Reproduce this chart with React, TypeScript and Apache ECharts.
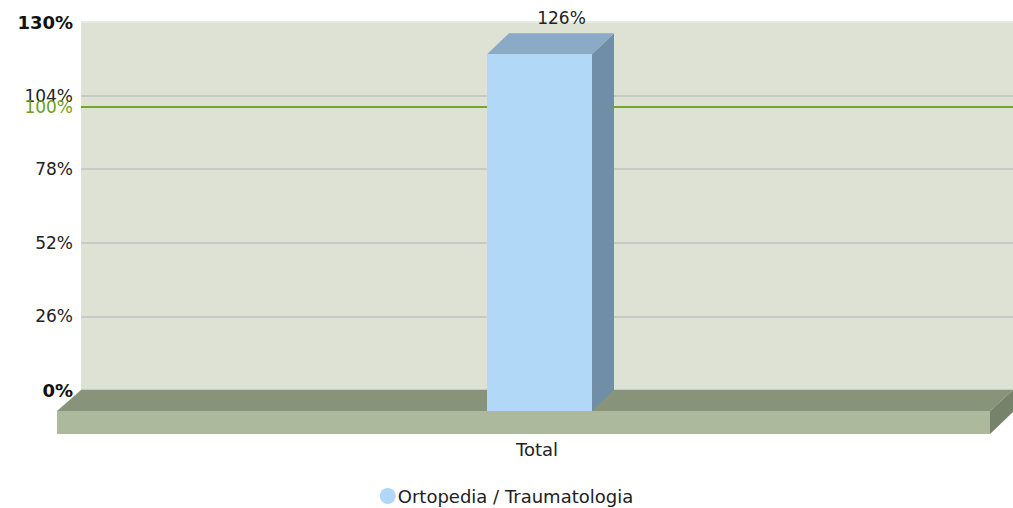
import React, { useEffect, useRef } from "react";
import * as echarts from "echarts";

const categories = ["Total"];
const seriesName = "Ortopedia / Traumatologia";
const values = [126];
const yMin = 0;
const yMax = 130;
const yInterval = 26;
const targetValue = 100;
const targetLabel = "100%";

const FONT = "DejaVu Sans";

export default function App() {
  const ref = useRef<HTMLDivElement>(null);
  useEffect(() => {
    if (!ref.current) return;
    const chart = echarts.init(ref.current, null, { renderer: "svg" });
    const DX = 22;
    const DY = 21;
    const seriesData = categories.map((c, i) => [i, values[i]]);
    const option: any = {
      animation: false,
      grid: {
        left: 81,
        right: 0,
        top: 22,
        bottom: 118,
        show: true,
        backgroundColor: "#dde2d4",
        borderWidth: 0,
      },
      legend: {
        data: [seriesName],
        icon: "circle",
        itemWidth: 16,
        itemHeight: 16,
        top: 482,
        left: "center",
        textStyle: { fontFamily: FONT, fontSize: 18, color: "#222", padding: [0, 0, 0, -3] },
      },
      xAxis: {
        type: "category",
        data: categories,
        axisLine: { show: false },
        axisTick: { show: false },
        axisLabel: {
          margin: 50,
          padding: [0, 20, 0, 0],
          fontFamily: FONT,
          fontSize: 18,
          color: "#222",
        },
      },
      yAxis: {
        type: "value",
        min: yMin,
        max: yMax,
        interval: yInterval,
        axisLine: { show: false },
        axisTick: { show: false },
        splitLine: {
          lineStyle: {
            color: ["#c8cac6", "#c8cac6", "#c8cac6", "#c8cac6", "#c8cac6", "#e8ebe2"],
            width: 2,
          },
        },
        axisLabel: {
          margin: 8,
          fontFamily: FONT,
          fontSize: 17,
          color: "#222",
          formatter: (v: number) =>
            v === yMin || v === yMax ? `{b|${v}%}` : `${v}%`,
          rich: {
            b: { fontFamily: FONT, fontSize: 18, fontWeight: "bold", color: "#111" },
          },
        },
      },
      series: [
        {
          type: "custom",
          name: seriesName,
          itemStyle: { color: "#b1d8f6" },
          data: seriesData,
          encode: { x: 0, y: 1 },
          z: 2,
          renderItem: (params: any, api: any) => {
            const cs = params.coordSys;
            const x0 = cs.x;
            const x1 = cs.x + cs.width;
            const yb = cs.y + cs.height;
            const idx = api.value(0);
            const v = api.value(1);
            const top = api.coord([idx, v]);
            const base = api.coord([idx, 0]);
            const cx = top[0];
            const yt = top[1];
            const w = 105;
            const bl = cx - 38;
            const br = bl + w;
            const fl = bl - DX;
            const fr = br - DX;
            const by = base[1];
            const children: any[] = [
              {
                type: "polygon",
                shape: { points: [[x0, yb], [x1, yb], [x1 - DX - 1, yb + DY], [x0 - DX - 2, yb + DY]] },
                style: { fill: "#879479" },
              },
              {
                type: "rect",
                shape: { x: x0 - DX - 2, y: yb + DY, width: x1 - x0 + 1, height: 23 },
                style: { fill: "#acb99c" },
              },
              {
                type: "polygon",
                shape: { points: [[x1 - DX - 1, yb + DY], [x1, yb], [x1, yb + 22], [x1 - DX - 1, yb + DY + 23]] },
                style: { fill: "#76826a" },
              },
              {
                type: "polygon",
                shape: { points: [[fr, yt + DY], [br, yt], [br, by], [fr, by + DY]] },
                style: { fill: "#718ea7" },
              },
              {
                type: "polygon",
                shape: { points: [[fl, yt + DY], [fr, yt + DY], [br, yt], [bl, yt]] },
                style: { fill: "#8aaac5" },
              },
              {
                type: "rect",
                shape: { x: fl, y: yt + DY, width: w, height: by - yt },
                style: { fill: "#b1d8f6" },
              },
              {
                type: "text",
                x: (bl + br) / 2,
                y: yt - 15,
                style: {
                  text: `${v}%`,
                  fill: "#222",
                  font: `17px "${FONT}"`,
                  align: "center",
                  verticalAlign: "middle",
                },
              },
            ];
            return { type: "group", children };
          },
          markLine: {
            silent: true,
            z: 1,
            symbol: "none",
            lineStyle: { color: "#78a62c", width: 2, type: "solid" },
            label: {
              position: "start",
              formatter: targetLabel,
              color: "#6e9e22",
              fontFamily: FONT,
              fontSize: 17,
              distance: 8,
            },
            data: [{ yAxis: targetValue }],
          },
        },
      ],
    };
    chart.setOption(option);
    return () => chart.dispose();
  }, []);
  return (
    <div
      ref={ref}
      style={{ position: "absolute", left: 0, top: 0, width: 1013, height: 508 }}
    />
  );
}
